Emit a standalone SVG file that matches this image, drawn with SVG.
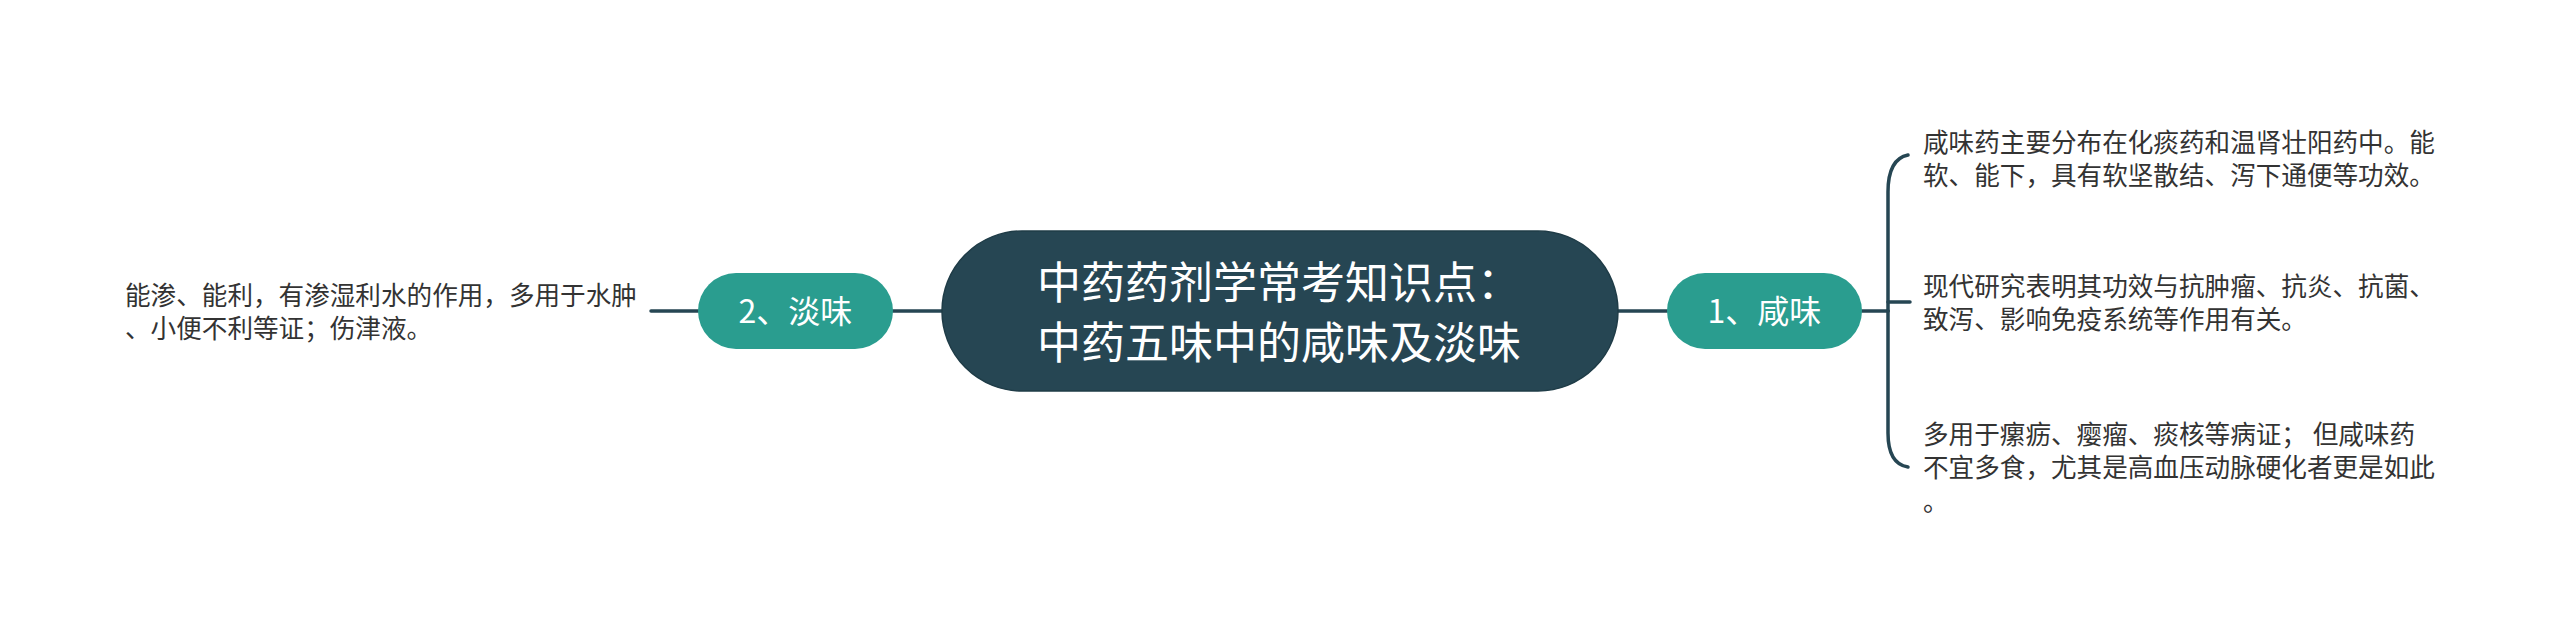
<svg xmlns="http://www.w3.org/2000/svg" width="2560" height="639" viewBox="0 0 2560 639">
<style>
.conn{fill:none;stroke:#264653;stroke-width:3.5;stroke-linecap:round}
.leaf{font-family:"Noto Sans CJK SC","Noto Sans",sans-serif;font-size:25.6px;fill:#333333}
.sub{font-family:"Noto Sans CJK SC","Noto Sans",sans-serif;font-size:32px;fill:#ffffff}
.root{font-family:"Noto Sans CJK SC","Noto Sans",sans-serif;font-size:44px;fill:#ffffff}
</style>
<rect width="2560" height="639" fill="#ffffff"/>
<g id="connectors">
<path class="conn" d="M1618 311 L1667 311"/>
<path class="conn" d="M1862 311 L1888 311"/>
<path class="conn" d="M1888 311 L1888 192 Q1888 159 1908 155"/>
<path class="conn" d="M1888 302 L1910 302"/>
<path class="conn" d="M1888 311 L1888 433 Q1888 464 1908 467"/>
<path class="conn" d="M942 311 L893 311"/>
<path class="conn" d="M698 311 L651 311"/>
</g>
<g id="root">
<rect x="942" y="231" width="676" height="160" rx="80" fill="#264653" stroke="#1f3c47" stroke-width="1.5"/>
<text class="root" x="1037" y="299">中药药剂学常考知识点：</text>
<text class="root" x="1037" y="359">中药五味中的咸味及淡味</text>
</g>
<g id="node1">
<rect x="1667" y="273" width="195" height="76" rx="38" fill="#2a9d8f"/>
<text class="sub" x="1764.5" y="323" text-anchor="middle">1、咸味</text>
</g>
<g id="node2">
<rect x="698" y="273" width="195" height="76" rx="38" fill="#2a9d8f"/>
<text class="sub" x="795.5" y="323" text-anchor="middle">2、淡味</text>
</g>
<g id="leaf1">
<text class="leaf" x="1923" y="152">咸味药主要分布在化痰药和温肾壮阳药中。能</text>
<text class="leaf" x="1923" y="185">软、能下，具有软坚散结、泻下通便等功效。</text>
</g>
<g id="leaf2">
<text class="leaf" x="1923" y="296">现代研究表明其功效与抗肿瘤、抗炎、抗菌、</text>
<text class="leaf" x="1923" y="329">致泻、影响免疫系统等作用有关。</text>
</g>
<g id="leaf3">
<text class="leaf" x="1923" y="444">多用于瘰疬、瘿瘤、痰核等病证； 但咸味药</text>
<text class="leaf" x="1923" y="477">不宜多食，尤其是高血压动脉硬化者更是如此</text>
<text class="leaf" x="1923" y="511">。</text>
</g>
<g id="leaf4">
<text class="leaf" x="125" y="305">能渗、能利，有渗湿利水的作用，多用于水肿</text>
<text class="leaf" x="125" y="338">、小便不利等证；伤津液。</text>
</g>
</svg>
